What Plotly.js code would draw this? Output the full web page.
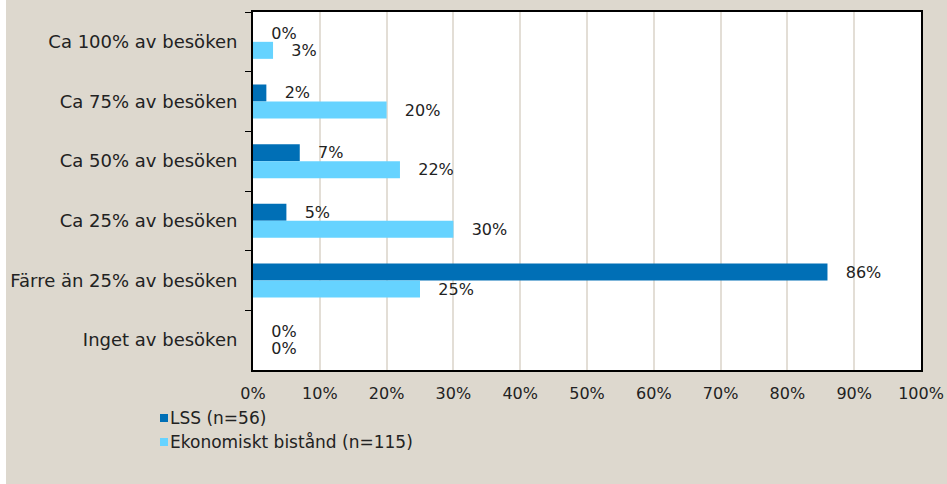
<!DOCTYPE html>
<html>
<head>
<meta charset="utf-8">
<script src="https://cdn.plot.ly/plotly-3.0.1.min.js"></script>
<style>html,body{margin:0;padding:0;background:#DDD8CE;}#chart{width:947px;height:484px;}</style>
</head>
<body>
<div id="chart"></div>
<script>
const categories = ["Ca 100% av besöken", "Ca 75% av besöken", "Ca 50% av besöken", "Ca 25% av besöken", "Färre än 25% av besöken", "Inget av besöken"];
const seriesNames = ["LSS (n=56)", "Ekonomiskt bistånd (n=115)"];
const seriesColors = ["#006FB6", "#66D3FF"];
const lssValues = [0, 2, 7, 5, 86, 0];
const ekoValues = [3, 20, 22, 30, 25, 0];
const xTickValues = [0, 10, 20, 30, 40, 50, 60, 70, 80, 90, 100];
const xTickLabels = ["0%", "10%", "20%", "30%", "40%", "50%", "60%", "70%", "80%", "90%", "100%"];

const FONT = "DejaVu Sans, sans-serif";
const pad = "\u00A0\u00A0\u00A0";

const W = 947, H = 484, L = 253, R = 26, T = 12, B = 114;
const pw = W - L - R, ph = H - T - B;
const px = v => (v - L) / pw;
const py = v => (H - B - v) / ph;

const seriesValues = [lssValues, ekoValues];
const traces = seriesValues.map((vals, i) => ({
  type: "bar", orientation: "h", name: seriesNames[i], y: categories, x: vals,
  marker: {color: seriesColors[i]}, text: vals.map(v => pad + v + "%"), textposition: "outside",
  constraintext: "none",
  textfont: {family: FONT, size: 16, color: "#222"}, cliponaxis: false, hoverinfo: "skip"
}));

// custom legend (square + label) in paper coordinates
const legendShapes = [], legendAnn = [];
const legY = [418, 442];
seriesNames.forEach((n, i) => {
  legendShapes.push({type: "rect", xref: "paper", yref: "paper",
    x0: px(160), x1: px(168), y0: py(legY[i] + 4), y1: py(legY[i] - 4),
    fillcolor: seriesColors[i], line: {width: 0}});
  legendAnn.push({xref: "paper", yref: "paper", x: px(168), y: py(legY[i]), xanchor: "left", yanchor: "middle",
    text: n, showarrow: false, font: {family: FONT, size: 17, color: "#222"}});
});

const layout = {
  width: W, height: H,
  margin: {l: L, r: R, t: T, b: B, pad: 0},
  paper_bgcolor: "#DDD8CE",
  plot_bgcolor: "#FFFFFF",
  font: {family: FONT, size: 15, color: "#222"},
  barmode: "group", bargap: 0.43, bargroupgap: 0,
  showlegend: false,
  xaxis: {range: [0, 100], tickvals: xTickValues, ticktext: xTickLabels,
          showgrid: true, gridcolor: "#E3DED6", gridwidth: 2, zeroline: false,
          showline: true, linecolor: "#000", linewidth: 2, mirror: true,
          ticks: "", ticklabelstandoff: 8,
          tickfont: {family: FONT, size: 16, color: "#222"}, fixedrange: true},
  yaxis: {type: "category", autorange: "reversed", showgrid: false, zeroline: false,
          showline: true, linecolor: "#000", linewidth: 2, mirror: true,
          ticks: "outside", ticklen: 6, tickcolor: "#000", tickson: "boundaries",
          ticklabelstandoff: 10,
          tickfont: {family: FONT, size: 18, color: "#222"}, fixedrange: true},
  shapes: [
    {type: "rect", xref: "paper", yref: "paper", x0: px(0), x1: px(6), y0: py(H), y1: py(0),
     fillcolor: "#FFFFFF", line: {width: 0}, layer: "below"}
  ].concat(legendShapes),
  annotations: legendAnn
};

Plotly.newPlot("chart", traces, layout, {displayModeBar: false, staticPlot: true});
</script>
</body>
</html>
